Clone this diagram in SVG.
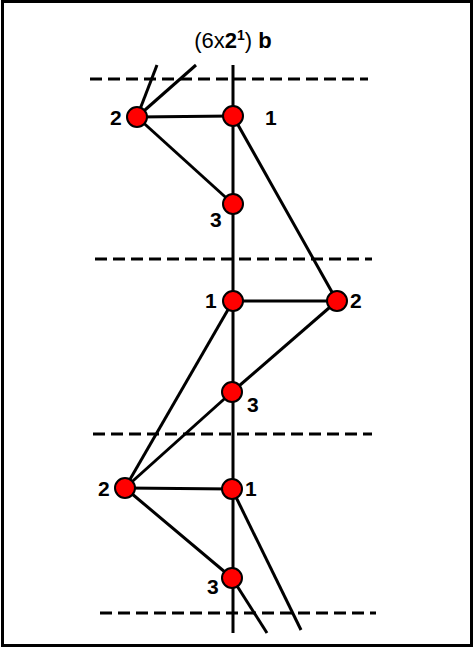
<svg xmlns="http://www.w3.org/2000/svg" width="474" height="648" viewBox="0 0 474 648">
<style>
.e{stroke:#000;stroke-width:3;fill:none;stroke-linecap:butt}
.d{stroke:#000;stroke-width:3;stroke-dasharray:12 6;fill:none}
.n{fill:#ff0000;stroke:#000;stroke-width:2}
.t{font-family:"Liberation Sans",Arial,sans-serif;font-size:21px;font-weight:bold;fill:#000}
</style>
<rect x="2.5" y="1.5" width="469" height="644" fill="#fff" stroke="#000" stroke-width="3"/>
<text x="233" y="48" text-anchor="middle" font-family="Liberation Sans,Arial,sans-serif" font-size="22">(6x<tspan font-weight="bold">2</tspan><tspan font-size="14" dy="-8" font-weight="bold">1</tspan><tspan dy="8">) </tspan><tspan font-weight="bold">b</tspan></text>
<g id="guides">
<line class="d" x1="90" y1="79" x2="368" y2="79"/>
<line class="d" x1="95" y1="259" x2="372" y2="259"/>
<line class="d" x1="93" y1="434" x2="372" y2="434"/>
<line class="d" x1="100" y1="613" x2="376" y2="613"/>
</g>
<g id="connectors">
<line class="e" x1="233" y1="65" x2="233" y2="633"/>
<line class="e" x1="137" y1="117" x2="157" y2="65"/>
<line class="e" x1="137" y1="117" x2="196" y2="65"/>
<line class="e" x1="137" y1="117" x2="233" y2="116"/>
<line class="e" x1="137" y1="117" x2="233" y2="204"/>
<line class="e" x1="233" y1="116" x2="337" y2="301"/>
<line class="e" x1="233" y1="301" x2="337" y2="301"/>
<line class="e" x1="337" y1="301" x2="232" y2="392"/>
<line class="e" x1="233" y1="301" x2="125" y2="488"/>
<line class="e" x1="232" y1="392" x2="125" y2="488"/>
<line class="e" x1="125" y1="488" x2="232" y2="489"/>
<line class="e" x1="125" y1="488" x2="232" y2="578"/>
<line class="e" x1="232" y1="489" x2="301" y2="630"/>
<line class="e" x1="232" y1="578" x2="267" y2="633"/>
</g>
<g id="t2"><circle class="n" cx="137" cy="117" r="10"/><text class="t" x="110" y="125">2</text></g>
<g id="t1"><circle class="n" cx="233" cy="116" r="10"/><text class="t" x="265" y="125">1</text></g>
<g id="t3"><circle class="n" cx="233" cy="204" r="10"/><text class="t" x="210" y="227">3</text></g>
<g id="m1"><circle class="n" cx="233" cy="301" r="10"/><text class="t" x="205" y="308">1</text></g>
<g id="m2"><circle class="n" cx="337" cy="301" r="10"/><text class="t" x="350" y="308">2</text></g>
<g id="m3"><circle class="n" cx="232" cy="392" r="10"/><text class="t" x="247" y="412">3</text></g>
<g id="b2"><circle class="n" cx="125" cy="488" r="10"/><text class="t" x="98" y="496">2</text></g>
<g id="b1"><circle class="n" cx="232" cy="489" r="10"/><text class="t" x="245" y="496">1</text></g>
<g id="b3"><circle class="n" cx="232" cy="578" r="10"/><text class="t" x="207" y="594">3</text></g>
</svg>
